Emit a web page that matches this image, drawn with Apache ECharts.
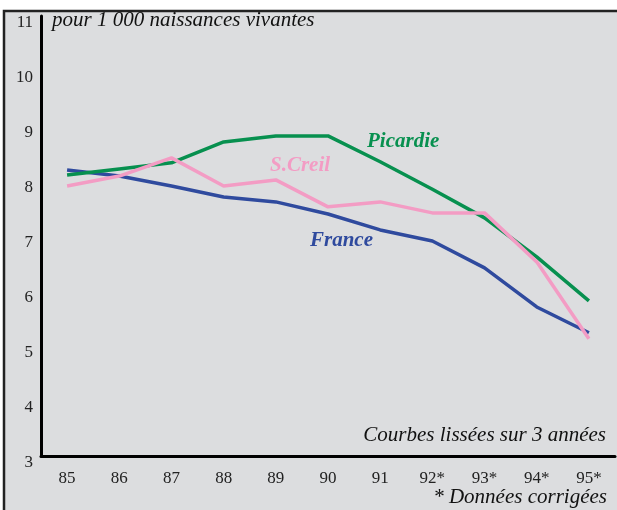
<!DOCTYPE html>
<html>
<head>
<meta charset="utf-8">
<script src="https://cdn.jsdelivr.net/npm/echarts@6/dist/echarts.min.js"></script>
<style>
  html, body { margin: 0; padding: 0; background: #fff; }
  #chart { width: 617px; height: 510px; }
</style>
</head>
<body>
<div id="chart"></div>
<script>
const years = ['85', '86', '87', '88', '89', '90', '91', '92*', '93*', '94*', '95*'];
const picardie = [8.11, 8.22, 8.33, 8.71, 8.82, 8.82, 8.35, 7.85, 7.33, 6.62, 5.82];
const creil = [7.91, 8.09, 8.42, 7.91, 8.02, 7.53, 7.62, 7.42, 7.42, 6.53, 5.13];
const france = [8.2, 8.09, 7.91, 7.71, 7.62, 7.4, 7.11, 6.91, 6.42, 5.71, 5.24];

const serif = '"Liberation Serif", "DejaVu Serif", serif';

const chart = echarts.init(document.getElementById('chart'));

const line = (name, data, color) => ({
  name,
  type: 'line',
  data,
  symbol: 'none',
  lineStyle: { color, width: 3.5 },
  z: 3
});

chart.setOption({
  animation: false,
  backgroundColor: '#fff',
  graphic: [
    {
      type: 'rect',
      z: -10,
      shape: { x: 4, y: 11, width: 620, height: 510 },
      style: { fill: '#dcdddf', stroke: '#222', lineWidth: 2.5 }
    },
    {
      type: 'text', left: 52, top: 10,
      style: { text: 'pour 1 000 naissances vivantes', font: 'italic 21px ' + serif, fill: '#111' }
    },
    {
      type: 'text', right: 11, top: 425,
      style: { text: 'Courbes lissées sur 3 années', font: 'italic 21px ' + serif, fill: '#111' }
    },
    {
      type: 'text', right: 10, top: 487,
      style: { text: '* Données corrigées', font: 'italic 21px ' + serif, fill: '#111' }
    },
    {
      type: 'text', left: 367, top: 131,
      style: { text: 'Picardie', font: 'italic bold 21px ' + serif, fill: '#07904f' }
    },
    {
      type: 'text', left: 270, top: 155,
      style: { text: 'S.Creil', font: 'italic bold 21px ' + serif, fill: '#f39cc4' }
    },
    {
      type: 'text', left: 310, top: 230,
      style: { text: 'France', font: 'italic bold 21px ' + serif, fill: '#2f4a9e' }
    }
  ],
  grid: { left: 41, right: 2, top: 16, bottom: 54 },
  xAxis: {
    type: 'category',
    data: years,
    boundaryGap: true,
    axisLine: { lineStyle: { color: '#000', width: 3 } },
    axisTick: { show: false },
    axisLabel: { color: '#222', fontFamily: serif, fontSize: 17, margin: 14 }
  },
  yAxis: {
    type: 'value',
    min: 3,
    max: 11,
    interval: 1,
    axisLine: { show: true, lineStyle: { color: '#000', width: 3 } },
    axisTick: { show: false },
    splitLine: { show: false },
    axisLabel: {
      color: '#222', fontFamily: serif, fontSize: 17, margin: 8,
      verticalAlign: 'top', lineHeight: 13
    }
  },
  series: [
    line('France', france, '#2f4a9e'),
    line('Picardie', picardie, '#07904f'),
    line('S.Creil', creil, '#f39cc4')
  ]
});

window.addEventListener('resize', () => chart.resize());
</script>
</body>
</html>
